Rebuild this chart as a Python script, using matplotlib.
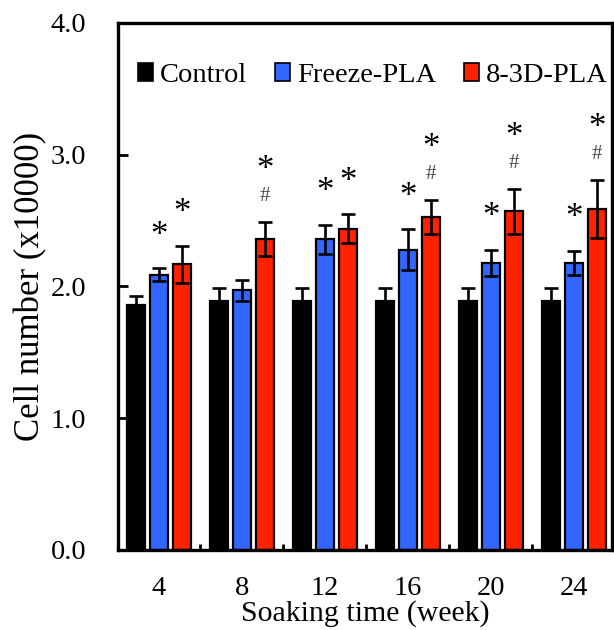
import numpy as np
from matplotlib import pyplot as plt
from matplotlib.patches import Patch

# data
weeks = ["4", "8", "12", "16", "20", "24"]
series_names = ["Control", "Freeze-PLA", "8-3D-PLA"]
control = [1.86, 1.89, 1.89, 1.89, 1.89, 1.89]
control_err = [0.07, 0.10, 0.10, 0.10, 0.10, 0.10]
freeze = [2.09, 1.97, 2.36, 2.28, 2.18, 2.18]
freeze_err = [0.05, 0.08, 0.11, 0.155, 0.10, 0.09]
printed = [2.17, 2.36, 2.44, 2.53, 2.57, 2.59]
printed_err = [0.14, 0.13, 0.11, 0.13, 0.17, 0.22]
# significance marks: * vs control, # vs Freeze-PLA
freeze_star = [True, False, True, True, True, True]
printed_star = [True, True, True, True, True, True]
printed_hash = [False, True, False, True, True, True]

colors = ["#000000", "#3366ff", "#ff2200"]

plt.rcParams["font.family"] = ["Liberation Serif", "DejaVu Serif"]

fig = plt.figure(figsize=(6.14, 6.30), dpi=100)
ax = fig.add_axes([0.1922, 0.127, 0.8045, 0.8365])

x = np.arange(1, len(weeks) + 1)
pitch = 0.277
width = 0.215
values = [control, freeze, printed]
errors = [control_err, freeze_err, printed_err]

for i, (vals, errs) in enumerate(zip(values, errors)):
    xpos = x + (i - 1) * pitch
    ax.bar(xpos, vals, width, color=colors[i], edgecolor="black", linewidth=1.6, zorder=2)
    ax.errorbar(xpos, vals, yerr=errs, fmt="none", ecolor="black",
                elinewidth=1.9, capsize=5, capthick=1.9, zorder=3)

star_gap = 23  # points above the error cap
for j in range(len(weeks)):
    if freeze_star[j]:
        top = freeze[j] + freeze_err[j]
        ax.annotate("*", (x[j], top), xytext=(0, star_gap), textcoords="offset points",
                    ha="center", va="center", fontsize=25)
    xr = x[j] + pitch
    top = printed[j] + printed_err[j]
    if printed_hash[j]:
        ax.annotate("#", (xr, top), xytext=(0, 18), textcoords="offset points",
                    ha="center", va="center", fontsize=15, color="#444444")
        ax.annotate("*", (xr, top), xytext=(0, 37), textcoords="offset points",
                    ha="center", va="center", fontsize=25)
    elif printed_star[j]:
        ax.annotate("*", (xr, top), xytext=(0, star_gap), textcoords="offset points",
                    ha="center", va="center", fontsize=25)

ax.set_xlim(0.51, 6.46)
ax.set_ylim(0, 4.0)
ax.set_yticks(np.arange(0, 4.01, 1.0))
ax.set_yticklabels([f"{v:.1f}" for v in np.arange(0, 4.01, 1.0)])
ax.set_xticks(x)
ax.set_xticklabels(weeks)
ax.set_xticks(x[:-1] + 0.5, minor=True)
ax.tick_params(axis="y", direction="in", length=7, width=2, labelsize=20.5, pad=23)
ax.tick_params(axis="x", which="major", length=0, labelsize=20.5, pad=19)
ax.tick_params(axis="x", which="minor", direction="in", length=4, width=2)
for s in ax.spines.values():
    s.set_linewidth(2.4)

ax.set_ylabel("Cell number (x10000)", fontsize=25, labelpad=2)
ax.set_xlabel("Soaking time (week)", fontsize=21.5, labelpad=-1)

handles = [Patch(facecolor=c, edgecolor="black", linewidth=1.2) for c in colors]
ax.legend(handles, series_names, loc="upper center", bbox_to_anchor=(0.516, 0.945),
          ncol=3, frameon=False, fontsize=20.5, handlelength=0.55, handleheight=0.6,
          handletextpad=0.25, columnspacing=0.95, borderaxespad=0)

fig.savefig("out.png", dpi=100)
